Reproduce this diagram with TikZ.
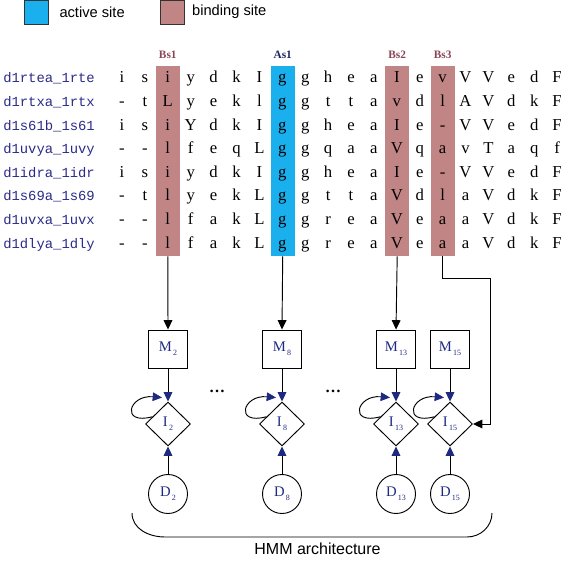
\documentclass[tikz,border=0pt]{standalone}
\usepackage{fontspec}
\setmainfont{Liberation Serif}
\setsansfont{Liberation Sans}
\setmonofont{Liberation Mono}
\usepackage{xcolor}
\usepackage{tikz}
\usetikzlibrary{shapes.geometric,positioning,calc,arrows.meta}

\definecolor{siteblue}{HTML}{1AB0EE}
\definecolor{sitebrown}{HTML}{C28585}
\definecolor{namenavy}{HTML}{2A2A8A}
\definecolor{bslabel}{HTML}{8A4458}
\definecolor{aslabel}{HTML}{1C2566}
\definecolor{hmmnavy}{HTML}{1E2A80}

\newcommand{\hmmlab}[2]{#1\raisebox{-0.55ex}{\fontsize{6}{6}\selectfont\,#2}}

\tikzset{
    resname/.style={anchor=base west, font=\ttfamily\fontsize{10.4}{12}\selectfont, text=namenavy, inner sep=0},
    residue/.style={anchor=base, font=\fontsize{12.5}{14}\selectfont, inner sep=0},
    sitebox/.style={minimum width=18pt, minimum height=142.5pt, inner sep=0},
    sitelabel/.style={font=\bfseries\fontsize{8.5}{10}\selectfont, inner sep=0},
    legendbox/.style={draw=black!80, line width=0.6pt, minimum width=18.5pt, minimum height=18pt, inner sep=0},
    legendtext/.style={font=\sffamily\fontsize{11}{13}\selectfont, inner sep=0},
    mstate/.style={draw, line width=0.7pt, minimum width=29.25pt, minimum height=28.5pt, inner sep=0, text=hmmnavy, font=\fontsize{11}{12}\selectfont},
    istate/.style={diamond, draw, line width=0.7pt, minimum width=33.75pt, minimum height=33pt, inner sep=0, text=hmmnavy, font=\fontsize{11}{12}\selectfont},
    dstate/.style={circle, draw, line width=0.7pt, minimum size=29.25pt, inner sep=0, text=hmmnavy, font=\fontsize{11}{12}\selectfont},
    alnarrow/.style={-{Triangle[length=7pt,width=6.5pt]}, line width=0.7pt},
    hmmarrow/.style={-{Triangle[length=7pt,width=6.5pt,color=hmmnavy]}, line width=0.7pt}
}

\begin{document}
\begin{tikzpicture}[x=0.75pt, y=0.75pt]
    \useasboundingbox (0,0) rectangle (573,563);

    % legend
    \node[legendbox, fill=siteblue] (actkey) at (36.5,551) {};
    \node[legendtext, right=7.5pt of actkey] (acttext) {active site};
    \node[legendbox, fill=sitebrown] (bindkey) at (172.5,551) {};
    \node[legendtext, right=5pt of bindkey] (bindtext) {binding site};

    % highlighted columns
    \node[sitebox, fill=sitebrown] (bs1) at (167.8,402) {};
    \node[sitebox, fill=siteblue] (as1) at (282.7,402) {};
    \node[sitebox, fill=sitebrown] (bs2) at (397.2,402) {};
    \node[sitebox, fill=sitebrown] (bs3) at (442.6,402) {};
    \node[sitelabel, text=bslabel, above=5pt of bs1] (bs1lab) {Bs1};
    \node[sitelabel, text=aslabel, above=5pt of as1] (as1lab) {As1};
    \node[sitelabel, text=bslabel, above=5pt of bs2] (bs2lab) {Bs2};
    \node[sitelabel, text=bslabel, above=5pt of bs3] (bs3lab) {Bs3};

    % sequence names
    \foreach \nm [count=\r] in {d1rtea\_1rte, d1rtxa\_1rtx, d1s61b\_1s61, d1uvya\_1uvy,
                               d1idra\_1idr, d1s69a\_1s69, d1uvxa\_1uvx, d1dlya\_1dly}
        \node[resname] (name\r) at (3, 480-23.6*\r+23.6) {\nm};

    % alignment
    \foreach \res [count=\r] in {
        {i,s,i,y,d,k,I,g,g,h,e,a,I,e,v,V,V,e,d,F},
        {-,t,L,y,e,k,l,g,g,t,t,a,v,d,l,A,V,d,k,F},
        {i,s,i,Y,d,k,I,g,g,h,e,a,I,e,-,V,V,e,d,F},
        {-,-,l,f,e,q,L,g,g,q,a,a,V,q,a,v,T,a,q,f},
        {i,s,i,y,d,k,I,g,g,h,e,a,I,e,-,V,V,e,d,F},
        {-,t,l,y,e,k,L,g,g,t,t,a,V,d,l,a,V,d,k,F},
        {-,-,l,f,a,k,L,g,g,r,e,a,V,e,a,a,V,d,k,F},
        {-,-,l,f,a,k,L,g,g,r,e,a,V,e,a,a,V,d,k,F}}
        \foreach \c [count=\k] in \res
            \node[residue] (res\r-\k) at (122+22.9*\k-22.9, 480-23.6*\r+23.6) {\c};

    % HMM states
    \foreach \n/\x in {2/168, 8/282, 13/396, 15/450} {
        \node[mstate] (M\n) at (\x,214) {\hmmlab{M}{\n}};
        \node[istate] (I\n) at (\x,139) {\hmmlab{I}{\n}};
        \node[dstate] (D\n) at (\x,69) {\hmmlab{D}{\n}};
        \draw[hmmarrow] (M\n) -- (I\n);
        \draw[hmmarrow] (D\n) -- (I\n);
        \draw[hmmarrow] (I\n.155) to[out=195, in=175, looseness=4] ($(I\n.north)+(-6,4)$);
    }
    \node[font=\bfseries\large] (dotsA) at (217,172) {\dots};
    \node[font=\bfseries\large] (dotsB) at (333,172) {\dots};

    % columns to states
    \draw[alnarrow] (bs1.south) -- (M2.north);
    \draw[alnarrow] (as1.south) -- (M8.north);
    \draw[alnarrow] (bs2.south) -- (M13.north);
    \coordinate (bs3turn) at (490,285);
    \draw[alnarrow] (bs3.south) |- (bs3turn) |- (I15.east);

    % brace
    \coordinate (braceL) at (132,50);
    \coordinate (braceR) at (492,50);
    \draw[line width=0.7pt] (braceL) to[out=-90, in=180] (165,26) -- (467,26) to[out=0, in=-90] (braceR);
    \node[font=\sffamily\fontsize{12}{14}\selectfont, anchor=base, inner sep=0] (hmmtitle) at (317.5,9) {HMM architecture};
\end{tikzpicture}
\end{document}
